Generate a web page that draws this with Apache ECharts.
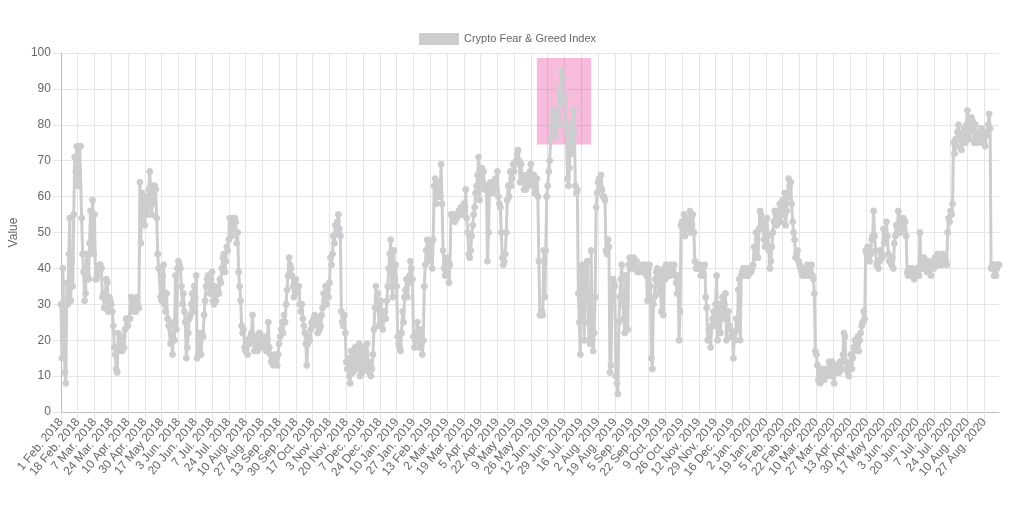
<!DOCTYPE html>
<html><head><meta charset="utf-8">
<script src="https://cdn.jsdelivr.net/npm/echarts@6/dist/echarts.min.js"></script>
<style>html,body{margin:0;padding:0;background:#fff}#c{width:1015px;height:511px}</style>
</head><body><div id="c"></div>
<script>
const seriesName = 'Crypto Fear & Greed Index';
const yAxisName = 'Value';
const missingDates = ['2018-04-14', '2018-04-15', '2018-04-16'];
const monthLabels = ['Jan.', 'Feb.', 'Mar.', 'Apr.', 'May', 'Jun.', 'Jul.', 'Aug.', 'Sep.', 'Oct.', 'Nov.', 'Dec.'];
const boxStart = '1 Jun. 2019';
const boxEnd = '26 Jul. 2019';
const boxLow = 74.5;
const boxHigh = 98.6;

const values2018 = [
30,15,40,24,11,8,36,30,44,54,
31,42,35,55,71,67,74,63,67,74,
74,54,44,39,31,33,44,38,37,47,
56,45,59,44,55,37,37,38,40,41,
41,40,32,33,29,33,37,36,28,32,
31,30,28,24,18,16,12,11,22,17,
21,18,17,21,18,23,26,26,24,26,
26,32,30,28,31,29,28,32,30,29,
64,47,61,54,59,52,60,57,55,62,
67,60,55,63,58,63,62,54,44,40,
40,32,31,38,41,30,28,33,26,24,
24,19,22,16,25,20,38,23,40,42,
41,40,35,30,33,28,25,15,18,22,
26,27,30,33,28,35,32,38,15,16,
22,20,16,22,21,27,31,35,37,38,
36,33,37,39,31,30,35,31,33,34,
33,37,36,40,43,44,39,42,46,45,
48,54,52,49,54,51,54,53,47,50,
39,35,31,24,22,23,18,17,20,16,
20,19,21,22,27,20,17,19,21,17,
20,22,21,19,18,20,21,19,17,20,
25,18,16,14,15,13,14,16,15,13,
16,19,21,23,25,22,27,25,30,34,
38,43,41,40,38,35,32,36,37,34,
33,35,30,28,30,26,24,22,19,13,
19,21,20,23,25,24,26,27,26,25,
22,26,23,24,27,29,33,31,35,30,
34,32,36,43,41,44,49,47,52,50,
53,55,51,49,28,25,24,27,22,14,
12,15,10,8,17,13,11,15,18,14,
12,16,19,10,17,11,15,18,12,16,
19,14,11,13,10,12,16,23,29,35,
29,33,24,28,31,27,23,26,28,26,
31
];
const values2019 = [
35,40,44,48,35,32,45,37,41,
35,21,19,18,17,22,28,25,32,34,
37,32,36,38,42,40,37,21,18,20,
22,25,20,18,23,19,16,20,35,41,
45,48,42,45,47,44,40,48,63,65,
58,62,60,64,60,69,58,45,40,38,
41,43,38,36,41,55,55,55,54,53,
55,54,55,56,55,57,56,55,58,57,
62,54,50,44,43,45,49,52,55,57,
61,63,66,71,59,65,68,64,67,62,
63,62,42,50,62,64,63,61,62,63,
65,62,67,60,58,57,50,43,41,42,
44,50,59,63,60,67,63,65,69,67,
69,70,72,73,70,64,69,66,65,62,
65,62,66,63,64,67,69,64,63,66,
61,62,65,60,42,27,27,28,27,45,
32,45,60,63,67,70,76,80,83,84,
80,77,84,82,80,90,86,95,93,88,
86,80,78,65,63,68,80,75,72,84,
78,63,61,62,33,25,16,40,41,35,
20,41,40,42,25,20,19,45,20,17,
22,32,57,61,64,65,63,66,62,60,
60,59,45,44,48,46,11,13,31,37,
36,35,10,8,5,25,32,37,41,30,
26,22,38,32,23,41,43,41,40,42,
43,40,41,42,39,40,39,40,39,41,
39,40,41,38,31,40,41,35,15,12,
30,32,37,39,40,33,38,39,28,37,
27,40,37,41,39,38,40,38,41,40,
39,41,38,36,33,38,20,28,52,53,
51,55,49,53,54,52,51,56,50,52,
55,50,42,40,40,41,40,41,38,40,
40,38,41,32,29,20,23,22,18,24,
26,28,24,30,38,20,30,26,22,30,
32,26,30,33,20,26,28,24,23,21,
22,15,22,20,26,23,34,37,20,38,
39,40,39,38,39,40
];
const values2020 = [
38,39,40,39,
40,41,46,43,50,48,43,51,56,55,
53,52,48,46,50,54,49,45,40,42,
46,50,53,56,55,52,56,55,58,53,
57,59,55,61,52,56,60,65,63,64,
58,53,50,48,43,44,45,42,41,40,
39,38,40,38,39,38,41,40,38,39,
41,38,37,33,17,16,13,9,11,8,
12,10,11,9,12,10,11,12,14,12,
10,14,12,8,12,11,13,12,11,14,
14,12,16,22,21,14,12,11,10,13,
16,12,15,18,20,17,19,21,17,20,
22,24,25,28,26,45,44,46,44,42,
44,48,49,56,49,45,41,42,40,42,
45,44,43,51,47,49,53,49,44,42,
42,41,43,40,47,49,52,50,56,52,
50,54,53,54,51,53,49,39,38,40,
38,39,40,38,37,39,38,40,39,38,
50,41,42,40,43,41,42,39,42,41,
40,38,41,42,40,43,41,42,44,41,
43,42,41,44,42,43,42,41,50,54,
53,56,55,58,75,72,76,74,78,80,
77,76,73,75,78,79,75,80,84,80,
76,79,82,81,78,75,80,76,77,75,
76,78,79,77,75,75,74,78,77,80,
83,79,40,41,41,38,41,38,40,41,41
];

const values = values2018.concat(values2019, values2020);
const categories = [];
const d = new Date(Date.UTC(2018, 1, 1));
while (categories.length < values.length) {
  const iso = d.toISOString().slice(0, 10);
  if (missingDates.indexOf(iso) < 0) {
    categories.push(d.getUTCDate() + ' ' + monthLabels[d.getUTCMonth()] + ' ' + d.getUTCFullYear());
  }
  d.setUTCDate(d.getUTCDate() + 1);
}

const grey = 'rgb(204,205,207)';
const font = 'Liberation Sans, Arial, Helvetica, sans-serif';
const chart = echarts.init(document.getElementById('c'), null, {renderer: 'canvas'});
chart.setOption({
  animation: false,
  textStyle: {fontFamily: font},
  legend: {
    data: [seriesName], top: 28, left: 'center', icon: 'rect',
    itemWidth: 40, itemHeight: 12,
    textStyle: {color: '#666', fontSize: 11, fontFamily: font}
  },
  grid: {left: 58, right: 16, top: 53, bottom: 99, containLabel: false},
  xAxis: {
    type: 'category', data: categories, boundaryGap: false,
    axisLine: {lineStyle: {color: '#bdbdbd'}},
    axisTick: {show: true, interval: 16, length: 8, lineStyle: {color: '#e5e5e5'}},
    axisLabel: {interval: 16, rotate: 50, color: '#666', fontSize: 12, margin: 8, fontFamily: font},
    splitLine: {show: true, interval: 16, lineStyle: {color: '#e5e5e5'}}
  },
  yAxis: {
    type: 'value', min: 0, max: 100, interval: 10,
    name: yAxisName, nameLocation: 'middle', nameGap: 38, nameRotate: 90,
    nameTextStyle: {color: '#666', fontSize: 12, fontFamily: font},
    axisLine: {show: true, lineStyle: {color: '#bdbdbd'}},
    axisTick: {show: true, length: 8, lineStyle: {color: '#e5e5e5'}},
    axisLabel: {color: '#666', fontSize: 12, margin: 10, fontFamily: font},
    splitLine: {lineStyle: {color: '#e5e5e5'}}
  },
  series: [
    {
      type: 'line', name: seriesName, data: values,
      symbol: 'circle', symbolSize: 6, showAllSymbol: true,
      itemStyle: {color: grey, borderColor: grey},
      lineStyle: {color: grey, width: 3},
      z: 2
    },
    {
      type: 'line', data: [], z: 5, silent: true,
      markArea: {
        silent: true,
        itemStyle: {color: 'rgba(230,30,140,0.3)'},
        data: [[{xAxis: boxStart, yAxis: boxHigh}, {xAxis: boxEnd, yAxis: boxLow}]]
      }
    }
  ]
});
</script>
</body></html>
